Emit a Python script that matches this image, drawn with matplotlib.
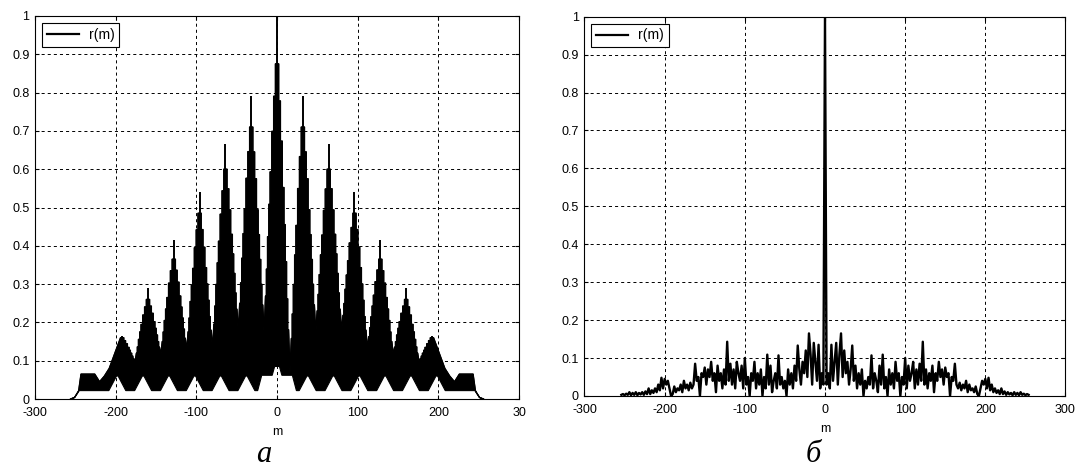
import numpy as np
import matplotlib.pyplot as plt

plt.rcParams['font.family'] = ['Liberation Sans', 'DejaVu Sans']
plt.rcParams['lines.scale_dashes'] = False

# --- (а) periodic sequence: dense black band, read as envelopes ---
peak_m = [-192, -160, -128, -96, -64, -32, 0, 32, 64, 96, 128, 160, 192]
peak_tip = [0.165, 0.29, 0.415, 0.54, 0.665, 0.79, 1.0, 0.79, 0.665, 0.54, 0.415, 0.29, 0.165]
peak_body = [0.16, 0.26, 0.365, 0.485, 0.60, 0.71, 0.875, 0.71, 0.60, 0.485, 0.365, 0.26, 0.16]
gap_m = [-176, -144, -112, -80, -48, -16, 16, 48, 80, 112, 144, 176]
gap_v = [0.097, 0.115, 0.125, 0.13, 0.175, 0.17, 0.068, 0.17, 0.175, 0.13, 0.115, 0.097]
flank_frac = [0.0, 0.12, 0.25, 0.4, 0.52, 0.64, 0.76, 0.86]
flank_hw = [2.0, 4.2, 6.5, 8.6, 10.2, 11.8, 13.2, 14.3]
# outer tail of the upper edge (m > 192), mirrored for m < -192
tail_m = [208, 214, 220, 226, 243, 246, 251, 256]
tail_v = [0.08, 0.06, 0.045, 0.065, 0.065, 0.02, 0.004, 0.0]
# lower edge of the band for m >= 0, mirrored for m < 0
low_m = [0, 3, 6, 19, 24, 27.5, 37, 39, 48.5, 59.5, 69, 71, 80.5, 91.5, 101, 103,
         112.5, 123.5, 133, 135, 144.5, 155.5, 165, 167, 176.5, 187.5, 197, 199,
         208.5, 246, 251, 256]
low_v = [0.085, 0.085, 0.062, 0.062, 0.022, 0.022, 0.06, 0.06, 0.022, 0.022, 0.06, 0.06,
         0.022, 0.022, 0.06, 0.06, 0.022, 0.022, 0.06, 0.06, 0.022, 0.022, 0.06, 0.06,
         0.022, 0.022, 0.06, 0.06, 0.022, 0.022, 0.004, 0.0]

# --- (б) noise-like sequence, r(m) for m = 2, 4, ..., 254 (symmetric) ---
r_pos = [0.03, 0.06, 0.02, 0.135, 0.04, 0.09, 0.14, 0.03, 0.11, 0.165,
         0.05, 0.12, 0.06, 0.09, 0.03, 0.07, 0.133, 0.04, 0.08, 0.02,
         0.06, 0.03, 0.07, 0.0, 0.04, 0.02, 0.05, 0.03, 0.107, 0.02,
         0.06, 0.04, 0.01, 0.08, 0.03, 0.109, 0.02, 0.05, 0.0, 0.07,
         0.03, 0.06, 0.02, 0.09, 0.04, 0.06, 0.0, 0.05, 0.03, 0.10,
         0.02, 0.08, 0.04, 0.06, 0.09, 0.02, 0.07, 0.03, 0.085, 0.04,
         0.143, 0.03, 0.07, 0.02, 0.06, 0.04, 0.08, 0.01, 0.06, 0.04,
         0.09, 0.05, 0.07, 0.03, 0.075, 0.05, 0.06, 0.0, 0.05, 0.04,
         0.085, 0.03, 0.02, 0.035, 0.015, 0.03, 0.02, 0.04, 0.01, 0.03,
         0.015, 0.02, 0.01, 0.025, 0.005, 0.0, 0.02, 0.04, 0.03, 0.045,
         0.02, 0.048, 0.015, 0.03, 0.01, 0.02, 0.008, 0.015, 0.005, 0.02,
         0.005, 0.012, 0.003, 0.01, 0.004, 0.008, 0.002, 0.01, 0.003, 0.008,
         0.002, 0.01, 0.003, 0.006, 0.002, 0.005, 0.003]
r_zero = 1.0

xticks = [-300, -200, -100, 0, 100, 200, 300]
yticks = [0, 0.1, 0.2, 0.3, 0.4, 0.5, 0.6, 0.7, 0.8, 0.9, 1]
ylabels = ['0', '0.1', '0.2', '0.3', '0.4', '0.5', '0.6', '0.7', '0.8', '0.9', '1']


def style_axes(ax, xlabels):
    ax.set_xlim(-300, 300)
    ax.set_ylim(0, 1)
    ax.set_xticks(xticks)
    ax.set_xticklabels(xlabels)
    ax.set_yticks(yticks)
    ax.set_yticklabels(ylabels)
    ax.set_axisbelow(True)
    ax.grid(True, color='k', linestyle=(0, (2.2, 2.2)), linewidth=0.7)
    ax.tick_params(direction='in', top=True, right=True, length=3, width=0.8,
                   labelsize=9, pad=4)
    ax.tick_params(axis='x', pad=6)
    for s in ax.spines.values():
        s.set_linewidth(0.8)
    ax.set_xlabel('m', fontsize=9, labelpad=5)
    leg = ax.legend(loc='upper left', fontsize=10, fancybox=False, edgecolor='k',
                    framealpha=1, borderaxespad=0.5, handlelength=2.3,
                    handletextpad=0.7, borderpad=0.35)
    leg.get_frame().set_linewidth(0.8)
    for ln in leg.get_lines():
        ln.set_linewidth(1.6)


def flank(p, t, d, side):
    # staircase flank of a peak, from its top down to the gap
    out = []
    for k, (f, w) in enumerate(zip(flank_frac, flank_hw)):
        v = t - f * (t - d)
        if k > 0:
            out.append((p + side * flank_hw[k - 1], v))
        out.append((p + side * w, v))
    return out


fig = plt.figure(figsize=(10.78, 4.70), dpi=100)
ax1 = fig.add_axes([0.0325, 0.151, 0.449, 0.815])
ax2 = fig.add_axes([0.5422, 0.1575, 0.4462, 0.807])

# upper edge of band (a), left to right
pts = [(-m, v) for m, v in zip(tail_m[::-1], tail_v[::-1])]
last = len(peak_m) - 1
for i, p in enumerate(peak_m):
    t = peak_body[i]
    if i > 0:
        pts += flank(p, t, gap_v[i - 1], -1)[::-1]
    else:
        pts.append((p - flank_hw[0], t))
    if i < last:
        pts += flank(p, t, gap_v[i], 1)
        pts.append((gap_m[i], gap_v[i]))
    else:
        pts.append((p + flank_hw[0], t))
pts += list(zip(tail_m, tail_v))
up_m = [a for a, b in pts]
up_v = [b for a, b in pts]

lo_m = [-m for m in low_m[::-1]] + low_m[1:]
lo_v = low_v[::-1] + low_v[1:]

poly_m = up_m + lo_m[::-1]
poly_v = up_v + lo_v[::-1]
ax1.fill(poly_m, poly_v, color='k', linewidth=0.8)
ax1.plot(up_m, up_v, color='k', linewidth=1.0, label='r(m)')
ax1.vlines(peak_m, peak_body, peak_tip, color='k', linewidth=1.4)
style_axes(ax1, ['-300', '-200', '-100', '0', '100', '200', '30'])

# (б)
m2 = np.arange(-254, 255, 2)
r2 = np.array(r_pos[::-1] + [r_zero] + r_pos)
ax2.plot(m2, r2, color='k', linewidth=1.7, label='r(m)')
style_axes(ax2, ['-300', '-200', '-100', '0', '100', '200', '300'])

fig.text(264 / 1078, 1.5 / 470, 'а', fontsize=22, fontstyle='italic',
         family='Liberation Serif', ha='center', va='bottom')
fig.text(813 / 1078, 1.5 / 470, 'б', fontsize=22, fontstyle='italic',
         family='Liberation Serif', ha='center', va='bottom')

fig.savefig('out.png', dpi=100, facecolor='white')
